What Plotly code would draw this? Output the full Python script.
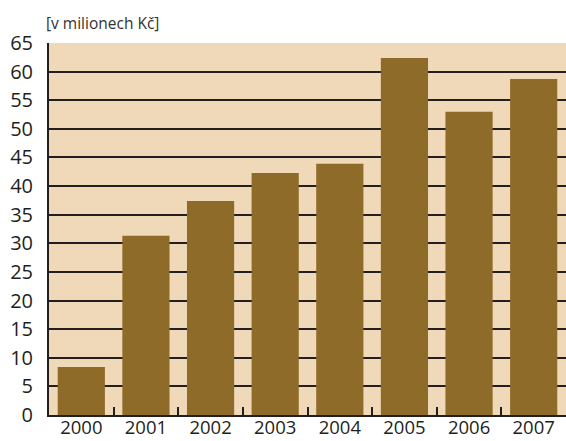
import plotly.graph_objects as go

years = ["2000", "2001", "2002", "2003", "2004", "2005", "2006", "2007"]
values = [8.4, 31.3, 37.4, 42.3, 43.9, 62.4, 53.0, 58.7]
y_ticks = list(range(0, 70, 5))

dark = "#231f20"
fig = go.Figure(go.Bar(x=years, y=values, marker=dict(color="#8f6b29", line=dict(width=0)),
                       width=0.73))
fig.update_layout(
    width=566, height=441,
    margin=dict(l=49, r=0, t=43, b=26, autoexpand=False),
    paper_bgcolor="white", plot_bgcolor="#efd9b9",
    showlegend=False, bargap=0.27,
    font=dict(family="Open Sans", color=dark),
    annotations=[dict(text="[v milionech Kč]", xref="paper", yref="paper", x=-0.01, y=1.0,
                      xanchor="left", yanchor="bottom", yshift=7, showarrow=False,
                      font=dict(size=15.5, color="#333333", family="Open Sans"))],
)
fig.update_xaxes(type="category", range=[-0.5, 7.5], showgrid=False,
                 showline=True, linecolor=dark, linewidth=2,
                 ticks="inside", tickson="boundaries", ticklen=8, tickwidth=2, tickcolor=dark,
                 ticklabelstandoff=-5,
                 tickfont=dict(size=18.5, color=dark), fixedrange=True)
fig.update_yaxes(range=[0, 65], tickvals=y_ticks, showgrid=True, gridcolor=dark, gridwidth=2,
                 showline=True, linecolor=dark, linewidth=2, mirror=False, zeroline=False,
                 ticks="outside", ticklen=10, tickcolor="rgba(0,0,0,0)",
                 tickfont=dict(size=20, color=dark), fixedrange=True)
fig.write_html("out.html", config={"displayModeBar": False},
               post_script="document.body.style.margin='0';document.body.style.overflow='hidden';")
